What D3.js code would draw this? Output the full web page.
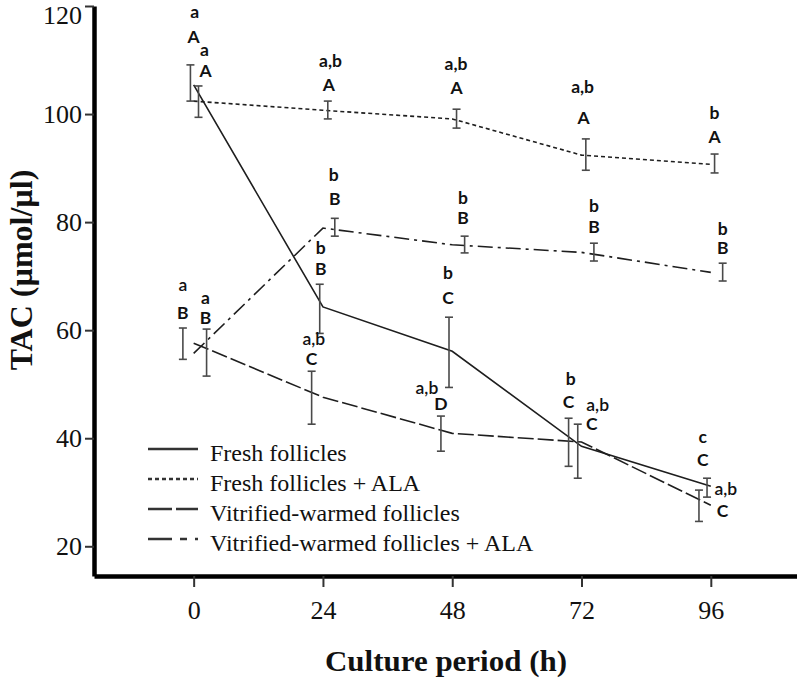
<!DOCTYPE html>
<html>
<head>
<meta charset="utf-8">
<script src="https://cdn.jsdelivr.net/npm/d3@7"></script>
<style>
  html, body { margin: 0; padding: 0; background: #fff; }
  svg { display: block; }
</style>
</head>
<body>
<svg id="chart" width="797" height="679"></svg>
<script>
// ---------------- data ----------------
const hours = [0, 24, 48, 72, 96];
const xTicks = [0, 24, 48, 72, 96];
const yTicks = [20, 40, 60, 80, 100, 120];

const seriesNames = ["Fresh follicles", "Fresh follicles + ALA", "Vitrified-warmed follicles", "Vitrified-warmed follicles + ALA"];

// mean TAC values (line vertices)
const fresh        = [105.4, 64.3, 56.1, 38.5, 31.1];
const freshALA     = [102.4, 100.7, 99.1, 92.4, 90.7];
const vitrified    = [57.6, 47.6, 40.9, 39.3, 27.6];
const vitrifiedALA = [55.7, 78.9, 75.8, 74.4, 70.7];

// error bars: upper / lower values and their (slightly jittered) hour positions
const freshHi  = [109.1, 68.5, 62.4, 43.7, 32.6];
const freshLo  = [102.4, 59.4, 49.4, 34.8, 29.1];
const freshErrX = [-0.6, 23.4, 47.4, 69.6, 95.3];

const freshALAHi = [105.2, 102.4, 100.9, 95.4, 92.6];
const freshALALo = [99.4, 99.1, 97.4, 89.6, 89.1];
const freshALAErrX = [0.9, 24.9, 48.8, 72.8, 96.7];

const vitrifiedHi = [60.4, 52.4, 44.1, 42.6, 30.4];
const vitrifiedLo = [54.6, 42.6, 37.6, 32.6, 24.6];
const vitrifiedErrX = [-2.0, 21.9, 45.9, 71.3, 93.8];

const vitrifiedALAHi = [60.2, 80.7, 77.4, 76.1, 72.4];
const vitrifiedALALo = [51.5, 77.4, 74.3, 72.8, 69.1];
const vitrifiedALAErrX = [2.4, 26.2, 50.3, 74.3, 98.2];

// significance letters (lowercase: within group over time; uppercase: between groups)
const freshLower = ["a", "b", "b", "b", "c"];
const freshUpper = ["A", "B", "C", "C", "C"];
const freshLowerAt = [[0.2, 118.9], [23.6, 75.3], [47.2, 70.6], [70.0, 51.0], [94.5, 40.2]];
const freshUpperAt = [[0.0, 114.3], [23.6, 71.3], [47.2, 66.1], [69.6, 46.8], [94.5, 36.1]];

const freshALALower = ["a", "a,b", "a,b", "a,b", "b"];
const freshALAUpper = ["A", "A", "A", "A", "A"];
const freshALALowerAt = [[2.0, 111.9], [25.4, 109.8], [48.7, 109.4], [72.2, 105.0], [96.7, 100.2]];
const freshALAUpperAt = [[2.2, 108.0], [25.1, 105.4], [48.8, 104.8], [72.4, 99.4], [96.7, 95.9]];

const vitrifiedLower = ["a", "a,b", "a,b", "a,b", "a,b"];
const vitrifiedUpper = ["B", "C", "D", "C", "C"];
const vitrifiedLowerAt = [[-2.0, 68.5], [22.3, 58.5], [43.3, 49.4], [75.0, 46.2], [98.8, 30.6]];
const vitrifiedUpperAt = [[-2.0, 63.3], [21.9, 54.8], [45.9, 46.3], [73.9, 42.7], [98.2, 26.5]];

const vitrifiedALALower = ["a", "b", "b", "b", "b"];
const vitrifiedALAUpper = ["B", "B", "B", "B", "B"];
const vitrifiedALALowerAt = [[2.2, 66.1], [26.0, 88.7], [50.0, 84.6], [74.3, 83.1], [98.2, 78.7]];
const vitrifiedALAUpperAt = [[2.2, 62.4], [26.2, 84.4], [50.0, 80.9], [74.3, 79.2], [98.2, 75.2]];

// ---------------- assemble ----------------
const series = [
  {name: seriesNames[0], values: fresh, hi: freshHi, lo: freshLo, ex: freshErrX,
   lower: freshLower, upper: freshUpper, lowerAt: freshLowerAt, upperAt: freshUpperAt, dash: null, lowW: 700},
  {name: seriesNames[1], values: freshALA, hi: freshALAHi, lo: freshALALo, ex: freshALAErrX,
   lower: freshALALower, upper: freshALAUpper, lowerAt: freshALALowerAt, upperAt: freshALAUpperAt, dash: "4,3", lowW: 700},
  {name: seriesNames[2], values: vitrified, hi: vitrifiedHi, lo: vitrifiedLo, ex: vitrifiedErrX,
   lower: vitrifiedLower, upper: vitrifiedUpper, lowerAt: vitrifiedLowerAt, upperAt: vitrifiedUpperAt, dash: "16,4", lowW: 600},
  {name: seriesNames[3], values: vitrifiedALA, hi: vitrifiedALAHi, lo: vitrifiedALALo, ex: vitrifiedALAErrX,
   lower: vitrifiedALALower, upper: vitrifiedALAUpper, lowerAt: vitrifiedALALowerAt, upperAt: vitrifiedALAUpperAt, dash: "15,5,3,5", lowW: 700}
];

const svg = d3.select("#chart");

const x = d3.scaleLinear().domain([-18.5, 112]).range([94, 797]);
const y = d3.scaleLinear().domain([14.5, 120]).range([576, 6]);

// ---------------- lines ----------------
const line = d3.line().x((d, i) => x(hours[i])).y(d => y(d));
svg.append("g").selectAll("path").data(series).join("path")
  .attr("d", s => line(s.values))
  .attr("fill", "none")
  .attr("stroke", "#1e1e1e")
  .attr("stroke-width", 1.6)
  .attr("stroke-dasharray", s => s.dash);

// ---------------- error bars ----------------
const cap = 4;
const eg = svg.append("g").attr("stroke", "#4a4a4a").attr("stroke-width", 1.6);
series.forEach(s => {
  s.values.forEach((v, i) => {
    const xe = x(s.ex[i]);
    eg.append("line").attr("x1", xe).attr("x2", xe).attr("y1", y(s.hi[i])).attr("y2", y(s.lo[i]));
    eg.append("line").attr("x1", xe - cap).attr("x2", xe + cap).attr("y1", y(s.hi[i])).attr("y2", y(s.hi[i]));
    eg.append("line").attr("x1", xe - cap).attr("x2", xe + cap).attr("y1", y(s.lo[i])).attr("y2", y(s.lo[i]));
  });
});

// ---------------- letters ----------------
const lg = svg.append("g").attr("font-family", "Lato, 'Open Sans', sans-serif")
  .attr("font-size", 17.5).attr("fill", "#111").attr("text-anchor", "middle");
series.forEach(s => {
  s.lower.forEach((t, i) => {
    lg.append("text").attr("x", x(s.lowerAt[i][0])).attr("y", y(s.lowerAt[i][1]))
      .attr("dy", "0.36em").attr("font-weight", s.lowW).text(t);
  });
  s.upper.forEach((t, i) => {
    lg.append("text").attr("x", x(s.upperAt[i][0])).attr("y", y(s.upperAt[i][1]))
      .attr("dy", "0.36em").attr("font-weight", 700).text(t);
  });
});

// ---------------- axes ----------------
const yAxis = svg.append("g").attr("transform", `translate(${x(-18.5)},0)`)
  .call(d3.axisLeft(y).tickValues(yTicks).tickSize(9).tickSizeOuter(0).tickPadding(3));
const xAxis = svg.append("g").attr("transform", `translate(0,${y(14.5)})`)
  .call(d3.axisBottom(x).tickValues(xTicks).tickSize(11).tickSizeOuter(0).tickPadding(14));

[yAxis, xAxis].forEach(a => {
  a.select(".domain").attr("stroke", "#000").attr("stroke-width", 4.5);
  a.selectAll(".tick line").attr("stroke", "#333").attr("stroke-width", 2);
  a.selectAll(".tick text").attr("font-family", "'Liberation Serif', 'Times New Roman', serif")
    .attr("font-size", 26).attr("fill", "#111");
});
// keep the top tick label inside the picture (as in the reference)
yAxis.selectAll(".tick text").attr("dy", d => (y(d) < 14 ? "0.66em" : "0.33em"));
xAxis.selectAll(".tick text").attr("dy", "0.71em");

// axis titles
svg.append("text")
  .attr("transform", `translate(32,270) rotate(-90)`)
  .attr("text-anchor", "middle")
  .attr("font-family", "'Liberation Serif', 'Times New Roman', serif")
  .attr("font-weight", "bold").attr("font-size", 32).attr("fill", "#111")
  .text("TAC (µmol/µl)");

svg.append("text")
  .attr("x", 446).attr("y", 671)
  .attr("text-anchor", "middle")
  .attr("font-family", "'Liberation Serif', 'Times New Roman', serif")
  .attr("font-weight", "bold").attr("font-size", 29).attr("fill", "#111")
  .attr("textLength", 242).attr("lengthAdjust", "spacingAndGlyphs")
  .text("Culture period (h)");

// ---------------- legend ----------------
const legendDash = [null, "4,3", "24,4", "24,8,7,8"];
const leg = svg.append("g");
series.forEach((s, i) => {
  const ly = 449 + i * 30;
  leg.append("line").attr("x1", 148).attr("x2", 198).attr("y1", ly).attr("y2", ly)
    .attr("stroke", "#333").attr("stroke-width", 2.6).attr("stroke-dasharray", legendDash[i]);
  leg.append("text").attr("x", 210).attr("y", ly + 12)
    .attr("font-family", "'Liberation Serif', 'Times New Roman', serif")
    .attr("font-size", 24).attr("fill", "#111").text(s.name);
});
</script>
</body>
</html>
